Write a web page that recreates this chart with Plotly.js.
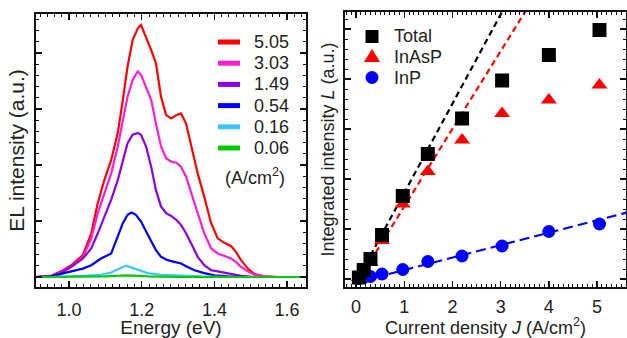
<!DOCTYPE html>
<html>
<head>
<meta charset="utf-8">
<script src="https://cdn.plot.ly/plotly-3.0.1.min.js"></script>
<style>html,body{margin:0;padding:0;background:#fff;}#plot{width:627px;height:338px;}</style>
</head>
<body>
<div id="plot"></div>
<script>
// ---------- Left panel: EL spectra ----------
const currentLabels = ["5.05", "3.03", "1.49", "0.54", "0.16", "0.06"];
const spectraColors = ["#ff0000", "#ff1ed2", "#8a00e8", "#0000ff", "#3cc6ff", "#00cc00"];

const energy505 = [0.909,0.950,0.978,1.006,1.038,1.061,1.079,1.097,1.116,1.134,1.148,1.161,1.175,1.189,1.198,1.212,1.226,1.239,1.253,1.267,1.281,1.295,1.308,1.322,1.336,1.354,1.372,1.391,1.409,1.427,1.446,1.459,1.473,1.492,1.510,1.537,1.574,1.652];
const el505 = [0.00,0.02,0.10,0.21,0.39,0.78,1.32,1.73,2.09,2.57,3.16,3.76,4.23,4.44,4.50,4.29,4.05,3.82,3.22,2.89,2.83,2.89,2.92,2.74,2.33,1.85,1.43,0.96,0.69,0.61,0.55,0.45,0.30,0.15,0.05,0.01,0.00,0.00];

const energy303 = [0.909,0.950,0.978,1.006,1.038,1.061,1.079,1.097,1.116,1.134,1.148,1.161,1.175,1.189,1.198,1.212,1.226,1.239,1.253,1.267,1.281,1.295,1.308,1.322,1.336,1.354,1.372,1.391,1.409,1.427,1.446,1.459,1.473,1.492,1.510,1.537,1.574,1.652];
const el303 = [0.00,0.02,0.08,0.18,0.35,0.69,1.14,1.49,1.85,2.33,2.80,3.22,3.52,3.67,3.61,3.40,3.16,2.74,2.33,2.12,2.06,2.04,1.97,1.79,1.49,1.14,0.78,0.51,0.42,0.38,0.33,0.27,0.18,0.10,0.04,0.01,0.00,0.00];

const energy149 = [0.909,0.950,0.978,1.006,1.038,1.061,1.079,1.097,1.116,1.134,1.148,1.161,1.175,1.189,1.198,1.212,1.226,1.239,1.253,1.267,1.281,1.295,1.308,1.322,1.336,1.354,1.372,1.391,1.409,1.427,1.446,1.473,1.510,1.574,1.652];
const el149 = [0.00,0.01,0.07,0.18,0.33,0.51,0.78,1.08,1.38,1.73,2.09,2.39,2.54,2.57,2.54,2.33,1.97,1.55,1.26,1.14,1.09,1.02,0.93,0.78,0.60,0.36,0.21,0.12,0.10,0.08,0.05,0.02,0.00,0.00,0.00];

const energy054 = [0.909,0.950,1.006,1.038,1.061,1.088,1.116,1.134,1.148,1.161,1.172,1.184,1.198,1.212,1.226,1.239,1.253,1.271,1.290,1.308,1.326,1.345,1.372,1.400,1.437,1.500,1.652];
const el054 = [0.00,0.01,0.10,0.15,0.21,0.33,0.42,0.72,0.96,1.11,1.15,1.11,0.99,0.81,0.63,0.48,0.36,0.30,0.27,0.24,0.18,0.12,0.07,0.03,0.01,0.00,0.00];

const energy016 = [0.909,0.950,1.042,1.088,1.116,1.134,1.148,1.157,1.171,1.189,1.216,1.253,1.308,1.363,1.450,1.652];
const el016 = [0.00,0.00,0.02,0.04,0.08,0.14,0.18,0.20,0.17,0.12,0.07,0.04,0.02,0.01,0.00,0.00];

const energy006 = [0.909,1.100,1.160,1.220,1.300,1.652];
const el006 = [0.00,0.01,0.03,0.01,0.00,0.00];

// ---------- Right panel: integrated intensity vs current density ----------
const seriesNames = ["Total", "InAsP", "InP"];
const currentJ = [0.06, 0.16, 0.30, 0.54, 0.97, 1.49, 2.20, 3.03, 4.00, 5.05];
const totalL = [0.03, 0.18, 0.40, 0.88, 1.66, 2.50, 3.21, 3.97, 4.48, 4.98];
const inasL  = [0.03, 0.14, 0.33, 0.77, 1.50, 2.15, 2.78, 3.31, 3.58, 3.88];
const inpL   = [0.01, 0.03, 0.05, 0.10, 0.19, 0.35, 0.46, 0.66, 0.95, 1.10];

const fitTotalJ = [0.30, 3.10];
const fitTotalL = [0.47, 5.47];
const fitInasJ = [0.30, 3.60];
const fitInasL = [0.36, 5.49];
const fitInpJ = [0.08, 5.70];
const fitInpL = [-0.05, 1.35];

// ---------- build ----------
const FONT = "Liberation Sans, Arial, Helvetica, sans-serif";
const TXT = "#222";
const W = 627, H = 338;
const px = v => v / W;
const py = v => 1 - v / H;

const spectraX = [energy505, energy303, energy149, energy054, energy016, energy006];
const spectraY = [el505, el303, el149, el054, el016, el006];

const traces = [];
for (let i = 0; i < currentLabels.length; i++) {
  traces.push({
    type: "scatter", mode: "lines", x: spectraX[i], y: spectraY[i],
    name: currentLabels[i], line: {color: spectraColors[i], width: 2.2},
    xaxis: "x", yaxis: "y", showlegend: false, hoverinfo: "skip"
  });
}
const fitColors = ["#000000", "#ff0000", "#0000ff"];
traces.push({type:"scatter", mode:"lines", x: fitInpJ, y: fitInpL, xaxis:"x2", yaxis:"y2", showlegend:false,
  line:{color: fitColors[2], width:2.2, dash:"10px,5px"}});
traces.push({type:"scatter", mode:"lines", x: fitInasJ, y: fitInasL, xaxis:"x2", yaxis:"y2", showlegend:false,
  line:{color: fitColors[1], width:2.2, dash:"6px,4px"}});
traces.push({type:"scatter", mode:"lines", x: fitTotalJ, y: fitTotalL, xaxis:"x2", yaxis:"y2", showlegend:false,
  line:{color: fitColors[0], width:2.2, dash:"6px,4px"}});
traces.push({type:"scatter", mode:"markers", x: currentJ, y: inpL, name: seriesNames[2], xaxis:"x2", yaxis:"y2",
  showlegend:false, cliponaxis:false, marker:{symbol:"circle", size:13, color:"#0000ff"}});
traces.push({type:"scatter", mode:"markers", x: currentJ, y: inasL, name: seriesNames[1], xaxis:"x2", yaxis:"y2",
  showlegend:false, cliponaxis:false, marker:{symbol:"triangle-up", size:14, color:"#ff0000"}});
traces.push({type:"scatter", mode:"markers", x: currentJ, y: totalL, name: seriesNames[0], xaxis:"x2", yaxis:"y2",
  showlegend:false, cliponaxis:false, marker:{symbol:"square", size:14, color:"#000000"}});
// empty traces so the extra tick-only axes (frame ticks) are drawn
traces.push({type:"scatter", mode:"lines", x: [], y: [], xaxis:"x3", yaxis:"y3", showlegend:false});
traces.push({type:"scatter", mode:"lines", x: [], y: [], xaxis:"x4", yaxis:"y4", showlegend:false});
traces.push({type:"scatter", mode:"lines", x: [], y: [], xaxis:"x5", yaxis:"y3", showlegend:false});
traces.push({type:"scatter", mode:"lines", x: [], y: [], xaxis:"x6", yaxis:"y4", showlegend:false});

const axisCommon = {
  showline: true, linewidth: 2, linecolor: "#111", mirror: true,
  ticks: "inside", ticklen: 6, tickwidth: 1.4, tickcolor: "#111",
  showgrid: false, zeroline: false, fixedrange: true,
  tickfont: {family: FONT, size: 18, color: TXT}
};
const tickOnly = {
  showline: false, ticks: "inside", ticklen: 6, tickwidth: 1.4, tickcolor: "#111",
  showgrid: false, zeroline: false, fixedrange: true, showticklabels: false
};
const minorT = d => ({ticks: "inside", ticklen: 3, dtick: d, tickwidth: 1, tickcolor: "#111"});

const shapes = [], annotations = [];
// left custom legend
for (let i = 0; i < currentLabels.length; i++) {
  const yc = 42 + i * 21.2;
  shapes.push({type:"line", xref:"paper", yref:"paper", x0:px(218), x1:px(240), y0:py(yc), y1:py(yc),
    line:{color: spectraColors[i], width:5}});
  annotations.push({xref:"paper", yref:"paper", x:px(252), y:py(yc), xanchor:"left", yanchor:"middle",
    text: currentLabels[i], showarrow:false, font:{family:FONT, size:18, color:TXT}});
}
annotations.push({xref:"paper", yref:"paper", x:px(223), y:py(176), xanchor:"left", yanchor:"middle",
  text:"(A/cm<sup>2</sup>)", showarrow:false, font:{family:FONT, size:18, color:TXT}});

// right custom legend
const legY = [36.5, 57, 77.5];
const legX = 372;
shapes.push({type:"rect", xref:"paper", yref:"paper", xsizemode:"pixel", ysizemode:"pixel",
  xanchor:px(legX), yanchor:py(legY[0]), x0:-6.5, x1:6.5, y0:-6.5, y1:6.5, fillcolor:"#000", line:{width:0}});
shapes.push({type:"path", xref:"paper", yref:"paper", xsizemode:"pixel", ysizemode:"pixel",
  xanchor:px(legX), yanchor:py(legY[1]), path:"M-8,-5 L8,-5 L0,8 Z", fillcolor:"#ff0000", line:{width:0}});
shapes.push({type:"circle", xref:"paper", yref:"paper", xsizemode:"pixel", ysizemode:"pixel",
  xanchor:px(legX), yanchor:py(legY[2]), x0:-6.5, x1:6.5, y0:-6.5, y1:6.5, fillcolor:"#0000ff", line:{width:0}});
for (let i = 0; i < seriesNames.length; i++) {
  annotations.push({xref:"paper", yref:"paper", x:px(392), y:py(legY[i]), xanchor:"left", yanchor:"middle",
    text: seriesNames[i], showarrow:false, font:{family:FONT, size:18, color:TXT}});
}

const xr1 = [0.909, 1.652], yr1 = [-0.179, 4.696];
const xr2 = [-0.228, 5.60], yr2 = [-0.16, 5.34];

const layout = {
  width: W, height: H,
  margin: {l:0, r:0, t:0, b:0},
  paper_bgcolor: "#fff", plot_bgcolor: "#fff",
  showlegend: false,
  font: {family: FONT, color: TXT},
  // bottom x axis: labels pushed down by a transparent outside tick; inside ticks drawn by x5
  xaxis: Object.assign({}, axisCommon, {
    domain: [px(36), px(306)], range: xr1, anchor: "y",
    tick0: 1.0, dtick: 0.2, tickformat: ".1f",
    ticks: "outside", ticklen: 5, tickcolor: "rgba(0,0,0,0)",
    title: {text: "Energy (eV)", font: {family: FONT, size: 19, color: TXT}, standoff: 2}
  }),
  yaxis: Object.assign({}, axisCommon, {
    domain: [1 - 287/H, 1 - 14/H], range: yr1, anchor: "x",
    tick0: 0, dtick: 1, showticklabels: false,
    minor: minorT(0.2),
    title: {text: "EL intensity (a.u.)", font: {family: FONT, size: 21, color: TXT}, standoff: 4}
  }),
  xaxis3: Object.assign({}, tickOnly, {
    overlaying: "x", anchor: "y", side: "top", range: xr1, tick0: 1.0, dtick: 0.2, minor: minorT(0.02)
  }),
  xaxis5: Object.assign({}, tickOnly, {
    overlaying: "x", anchor: "y", side: "bottom", range: xr1, tick0: 1.0, dtick: 0.2, minor: minorT(0.02)
  }),
  yaxis3: Object.assign({}, tickOnly, {
    overlaying: "y", anchor: "x", side: "right", range: yr1, tick0: 0, dtick: 1, minor: minorT(0.2)
  }),
  xaxis2: Object.assign({}, axisCommon, {
    domain: [px(345), px(626)], range: xr2, anchor: "y2",
    tick0: 0, dtick: 1,
    ticks: "outside", ticklen: 2, tickcolor: "rgba(0,0,0,0)",
    title: {text: "Current density <i>J</i> (A/cm<sup>2</sup>)", font: {family: FONT, size: 18, color: TXT}, standoff: 2}
  }),
  yaxis2: Object.assign({}, axisCommon, {
    domain: [1 - 287/H, 1 - 12/H], range: yr2, anchor: "x2",
    tick0: 0, dtick: 1, showticklabels: false,
    minor: minorT(0.2),
    title: {text: "Integrated intensity <i>L</i> (a.u.)", font: {family: FONT, size: 18, color: TXT}, standoff: 4}
  }),
  xaxis4: Object.assign({}, tickOnly, {
    overlaying: "x2", anchor: "y2", side: "top", range: xr2, tick0: 0, dtick: 1, minor: minorT(0.1)
  }),
  xaxis6: Object.assign({}, tickOnly, {
    overlaying: "x2", anchor: "y2", side: "bottom", range: xr2, tick0: 0, dtick: 1, minor: minorT(0.1)
  }),
  yaxis4: Object.assign({}, tickOnly, {
    overlaying: "y2", anchor: "x2", side: "right", range: yr2, tick0: 0, dtick: 1, minor: minorT(0.2)
  }),
  shapes: shapes,
  annotations: annotations
};

Plotly.newPlot("plot", traces, layout, {staticPlot: true, displayModeBar: false});
</script>
</body>
</html>
